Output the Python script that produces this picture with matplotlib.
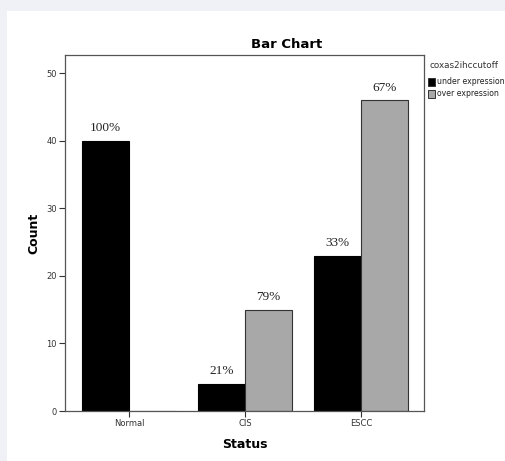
import matplotlib
matplotlib.use("Agg")
import matplotlib.pyplot as plt
import numpy as np
from matplotlib.patches import Rectangle

categories = ["Normal", "CIS", "ESCC"]
under_counts = [40, 4, 23]
over_counts = [0, 15, 46]
under_labels = ["100%", "21%", "33%"]
over_labels = [None, "79%", "67%"]
series_names = ["under expression", "over expression"]
legend_title = "coxas2ihccutoff"
yticks = [0, 10, 20, 30, 40, 50]

W, H = 505, 461
fig = plt.figure(figsize=(W / 100, H / 100), dpi=100)
fig.patch.set_facecolor("#F0F1F7")
# white panel
fig.patches.append(Rectangle((7 / W, 0), 1, 1 - 11 / H, transform=fig.transFigure,
                             facecolor="white", edgecolor="none", zorder=-5))

ax = fig.add_axes([65 / W, 50 / H, (424 - 65) / W, (411 - 55) / H])
ax.set_facecolor("white")
ax.set_zorder(1)

x = np.arange(len(categories))
w = 0.405
ax.bar(x - w / 2, under_counts, width=w, color="black", edgecolor="black", linewidth=0.8, zorder=2)
ax.bar(x + w / 2, over_counts, width=w, color="#A8A8A8", edgecolor="#333333", linewidth=0.8, zorder=2)

for xi, v, lab in zip(x, under_counts, under_labels):
    if lab:
        ax.text(xi - w / 2, v + 1.0, lab, ha="center", va="bottom",
                family="Liberation Serif", fontsize=9.5, color="#222222")
for xi, v, lab in zip(x, over_counts, over_labels):
    if lab:
        ax.text(xi + w / 2, v + 1.0, lab, ha="center", va="bottom",
                family="Liberation Serif", fontsize=9.5, color="#222222")

ax.set_xlim(-0.552, 2.543)
ax.set_ylim(0, 52.7)
ax.set_xticks(x)
ax.set_xticklabels(categories, fontsize=6, color="#333333")
ax.set_yticks(yticks)
ax.set_yticklabels([str(t) for t in yticks], fontsize=6, color="#333333")
ax.tick_params(axis="both", direction="out", length=4, width=0.8, color="#333333", pad=2)
for s in ax.spines.values():
    s.set_color("#555555")
    s.set_linewidth(0.9)

ax.set_xlabel("Status", fontsize=9, fontweight="bold", labelpad=7)
ax.set_ylabel("Count", fontsize=9, fontweight="bold", labelpad=4)

fig.text(287 / W, 1 - 44 / H, "Bar Chart", ha="center", va="center",
         fontsize=9.5, fontweight="bold")

# legend
fig.text(429 / W, 1 - 66 / H, legend_title, ha="left", va="center", fontsize=6.3, color="#333333")
colors = ["black", "#A8A8A8"]
for i, (name, c) in enumerate(zip(series_names, colors)):
    yc = 82 + i * 12
    fig.patches.append(Rectangle((428 / W, 1 - (yc + 4) / H), 7 / W, 8 / H,
                                 transform=fig.transFigure, facecolor=c,
                                 edgecolor="#333333", linewidth=0.7, zorder=3))
    fig.text(437 / W, 1 - yc / H, name, ha="left", va="center", fontsize=5.6, color="#222222")

fig.savefig("out.png", dpi=100, facecolor=fig.get_facecolor())
